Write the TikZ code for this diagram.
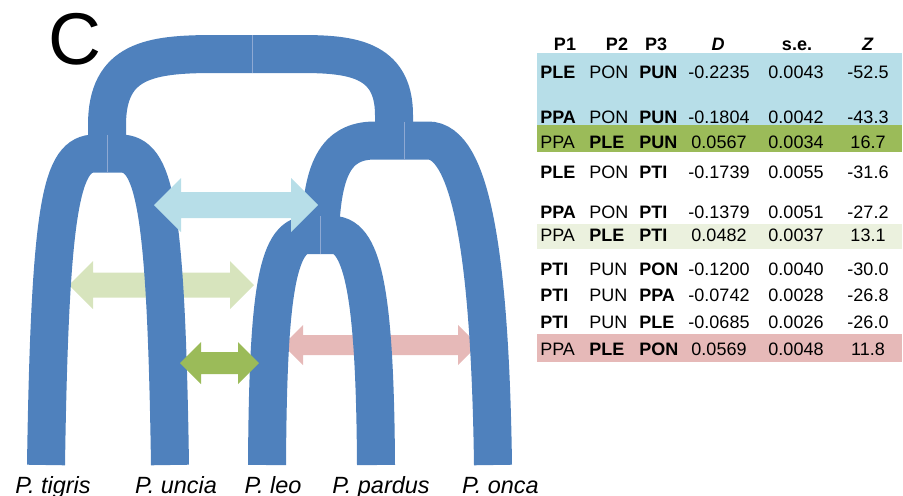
\documentclass[tikz,border=0pt]{standalone}
\usepackage{fontspec}
\setmainfont{Liberation Sans}
\definecolor{branchblue}{HTML}{4F81BD}
\definecolor{seamblue}{HTML}{8EA9D3}
\definecolor{paleblue}{HTML}{B7DEE8}
\definecolor{palegreen}{HTML}{D7E4BD}
\definecolor{midgreen}{HTML}{9BBB59}
\definecolor{palepink}{HTML}{E6B9B8}
\definecolor{faintgreen}{HTML}{EBF1DE}

% double-headed block arrow: colour, left tip x, right tip x, y,
% head length, head half-height, shaft half-height
\newcommand{\flowarrow}[7]{%
  \fill[#1] (#2,#4) -- ({#2+#5},{#4-#6}) -- ({#2+#5},{#4-#7}) -- ({#3-#5},{#4-#7})
    -- ({#3-#5},{#4-#6}) -- (#3,#4) -- ({#3-#5},{#4+#6}) -- ({#3-#5},{#4+#7})
    -- ({#2+#5},{#4+#7}) -- ({#2+#5},{#4+#6}) -- cycle;}

% one line of the D-statistics table
\newcommand{\tabrow}[8]{%
  \node[cell, anchor=base west] (#1a) at (540,#2) {#3};
  \node[cell, anchor=base west] (#1b) at (589,#2) {#4};
  \node[cell, anchor=base west] (#1c) at (639,#2) {#5};
  \node[cell, anchor=base] (#1d) at (719,#2) {#6};
  \node[cell, anchor=base] (#1e) at (796,#2) {#7};
  \node[cell, anchor=base] (#1f) at (868,#2) {#8};}

\begin{document}
\begin{tikzpicture}[x=0.75pt,y=-0.75pt,
  branch/.style={draw=branchblue, line width=28.5pt, line cap=butt},
  seam/.style={draw=seamblue, line width=0.5pt},
  cell/.style={inner sep=0pt, font=\fontsize{13.5}{16}\selectfont},
  taxon/.style={inner sep=0pt, anchor=base, font=\fontsize{17.6}{20}\selectfont\itshape}]
\useasboundingbox (0,0) rectangle (903,496);

% table row highlights
\fill[paleblue]   (537,53)  rectangle (902,125);
\fill[midgreen]   (537,125) rectangle (902,152);
\fill[faintgreen] (537,224) rectangle (902,249);
\fill[palepink]   (537,334) rectangle (902,362);

% gene-flow arrows lying behind the branches
\flowarrow{palepink}{283}{478}{345}{20}{20}{10}
\flowarrow{palegreen}{69}{254}{285}{24}{24}{12.5}

% tree: leaf ends and internal apices
\coordinate (tig) at (46,465);
\coordinate (unc) at (170,465);
\coordinate (leo) at (267,465);
\coordinate (par) at (376,465);
\coordinate (onc) at (493,465);
\coordinate (TU) at (107,153.5);
\coordinate (LP) at (320,235);
\coordinate (RC) at (404,140.5);
\coordinate (root) at (252,54);

% root arch
\draw[branch] (TU) -- (107,125) .. controls (107,60) and (150,54) .. (215,54) -- (root);
\draw[branch] (394,140.5) -- (394,115) .. controls (394,58) and (350,54) .. (300,54) -- (root);
% tigris / uncia
\draw[branch] (tig) .. controls (50,200) and (62,153.5) .. (95,153.5) -- (TU);
\draw[branch] (unc) .. controls (166,200) and (154,153.5) .. (120,153.5) -- (TU);
% (leo, pardus) + onca
\draw[branch] (LP) .. controls (322,170) and (335,140.5) .. (375,140.5) -- (RC);
\draw[branch] (onc) .. controls (490,250) and (470,140.5) .. (428,140.5) -- (RC);
% leo / pardus
\draw[branch] (leo) .. controls (268,300) and (276,235) .. (308,235) -- (LP);
\draw[branch] (par) .. controls (375,300) and (364,235) .. (333,235) -- (LP);

% faint joins at the top of each arch
\draw[seam] (107,134.5) -- (107,172.5);
\draw[seam] (252,35) -- (252,73);
\draw[seam] (404,121.5) -- (404,159.5);
\draw[seam] (320,216) -- (320,254);

% gene-flow arrows lying over the branches
\flowarrow{paleblue}{154}{318}{205}{27}{27}{13}
\flowarrow{midgreen}{180}{259}{363}{21}{21}{11}

% panel letter and taxa
\node[inner sep=0pt, anchor=base, font=\fontsize{55}{60}\selectfont] (panel) at (75,64) {C};
\node[taxon] (tigris) at (53,493) {P. tigris};
\node[taxon] (uncia) at (176,493) {P. uncia};
\node[taxon] (leolab) at (273,493) {P. leo};
\node[taxon] (pardus) at (381,493) {P. pardus};
\node[taxon] (onca) at (500.5,493) {P. onca};

% table header
\node[cell, anchor=base] (hP1) at (565,50.7) {\textbf{P1}};
\node[cell, anchor=base] (hP2) at (617,50.7) {\textbf{P2}};
\node[cell, anchor=base] (hP3) at (656,50.7) {\textbf{P3}};
\node[cell, anchor=base] (hD) at (718,50.7) {\textbf{\textit{D}}};
\node[cell, anchor=base] (hse) at (797,50.7) {\textbf{s.e.}};
\node[cell, anchor=base] (hZ) at (868,50.7) {\textbf{\textit{Z}}};

% table body
\tabrow{r1}{78.3}{\textbf{PLE}}{PON}{\textbf{PUN}}{-0.2235}{0.0043}{-52.5}
\tabrow{r2}{123.3}{\textbf{PPA}}{PON}{\textbf{PUN}}{-0.1804}{0.0042}{-43.3}
\tabrow{r3}{148.3}{PPA}{\textbf{PLE}}{\textbf{PUN}}{0.0567}{0.0034}{16.7}
\tabrow{r4}{178.3}{\textbf{PLE}}{PON}{\textbf{PTI}}{-0.1739}{0.0055}{-31.6}
\tabrow{r5}{218.3}{\textbf{PPA}}{PON}{\textbf{PTI}}{-0.1379}{0.0051}{-27.2}
\tabrow{r6}{241.7}{PPA}{\textbf{PLE}}{\textbf{PTI}}{0.0482}{0.0037}{13.1}
\tabrow{r7}{275}{\textbf{PTI}}{PUN}{\textbf{PON}}{-0.1200}{0.0040}{-30.0}
\tabrow{r8}{301.7}{\textbf{PTI}}{PUN}{\textbf{PPA}}{-0.0742}{0.0028}{-26.8}
\tabrow{r9}{328.3}{\textbf{PTI}}{PUN}{\textbf{PLE}}{-0.0685}{0.0026}{-26.0}
\tabrow{r10}{355}{PPA}{\textbf{PLE}}{\textbf{PON}}{0.0569}{0.0048}{11.8}
\end{tikzpicture}
\end{document}
